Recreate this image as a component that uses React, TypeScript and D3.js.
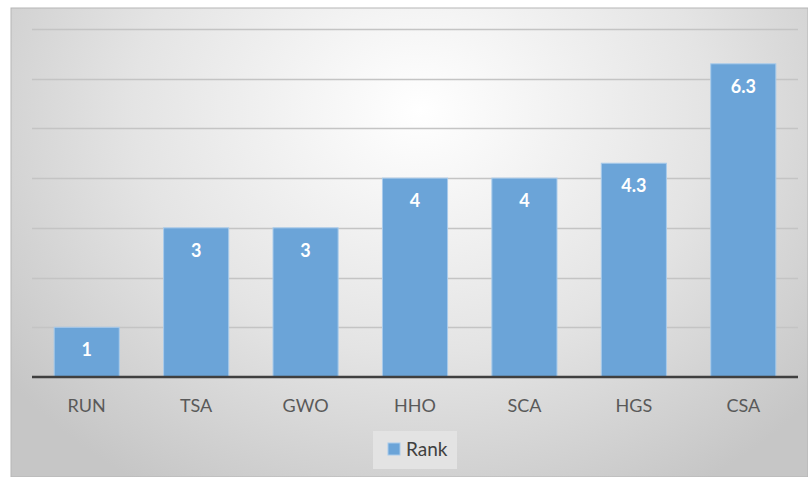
import React from 'react';
import * as d3 from "d3";

// chart data
const algorithms = ["RUN", "TSA", "GWO", "HHO", "SCA", "HGS", "CSA"];
const rankValues = [1, 3, 3, 4, 4, 4.3, 6.3];
const rankLabels = ["1", "3", "3", "4", "4", "4.3", "6.3"];
const yTicks = [0, 1, 2, 3, 4, 5, 6, 7];
const seriesName = "Rank";

const RankChart = () => {
    const svgRef = React.useRef<SVGSVGElement>(null);

    const width = 808;
    const height = 477;
    const frame = {left: 11, top: 8, right: 808, bottom: 477};
    const plot = {left: 32, right: 798, top: 29, bottom: 377};
    const font = "Lato, 'Open Sans', sans-serif";

    React.useEffect(() => {
        const svg = d3.select(svgRef.current);
        svg.selectAll("*").remove();

        const defs = svg.append("defs");
        const grad = defs.append("radialGradient")
            .attr("id", "bg")
            .attr("gradientUnits", "userSpaceOnUse")
            .attr("cx", 420).attr("cy", 110)
            .attr("r", 520)
            .attr("gradientTransform", "translate(420,110) scale(1,0.85) translate(-420,-110)");
        grad.append("stop").attr("offset", "0%").attr("stop-color", "#ffffff");
        grad.append("stop").attr("offset", "55%").attr("stop-color", "#e4e4e4");
        grad.append("stop").attr("offset", "100%").attr("stop-color", "#c6c6c6");

        svg.append("rect")
            .attr("x", frame.left).attr("y", frame.top)
            .attr("width", frame.right - frame.left)
            .attr("height", frame.bottom - frame.top)
            .attr("fill", "url(#bg)")
            .attr("stroke", "#b5b5b5")
            .attr("stroke-width", 1);

        const x = d3.scaleBand<string>()
            .domain(algorithms)
            .range([plot.left, plot.right])
            .paddingInner(0.405)
            .paddingOuter(0.2025);

        const y = d3.scaleLinear()
            .domain([0, 7])
            .range([plot.bottom, plot.top]);

        // gridlines
        svg.append("g")
            .selectAll("line")
            .data(yTicks.filter(t => t > 0))
            .enter()
            .append("line")
            .attr("x1", plot.left).attr("x2", plot.right)
            .attr("y1", d => Math.round(y(d)) + 0.5)
            .attr("y2", d => Math.round(y(d)) + 0.5)
            .attr("stroke", "#c4c4c4")
            .attr("stroke-width", 1.3);

        const data = algorithms.map((a, i) => ({name: a, value: rankValues[i], label: rankLabels[i]}));

        const bars = svg.append("g");
        bars.selectAll("rect")
            .data(data)
            .enter()
            .append("rect")
            .attr("x", d => x(d.name)!)
            .attr("y", d => y(d.value))
            .attr("width", x.bandwidth())
            .attr("height", d => y(0) - y(d.value))
            .attr("fill", "#6ba4d8")
            .attr("stroke", "#a9cbeb")
            .attr("stroke-width", 1);

        bars.selectAll("text")
            .data(data)
            .enter()
            .append("text")
            .attr("x", d => x(d.name)! + x.bandwidth() / 2)
            .attr("y", d => y(d.value) + 29)
            .attr("text-anchor", "middle")
            .attr("font-family", font)
            .attr("font-weight", "bold")
            .attr("font-size", 18)
            .attr("fill", "#ffffff")
            .text(d => d.label);

        // baseline
        svg.append("line")
            .attr("x1", plot.left).attr("x2", plot.right)
            .attr("y1", y(0)).attr("y2", y(0))
            .attr("stroke", "#3f3f3f")
            .attr("stroke-width", 2.5);

        // category labels
        const xAxis = d3.axisBottom(x).tickSize(0).tickPadding(0);
        const xg = svg.append("g")
            .attr("transform", "translate(0," + (y(0) + 35) + ")")
            .call(xAxis);
        xg.select(".domain").remove();
        xg.selectAll("text")
            .attr("dy", 0)
            .attr("font-family", font)
            .attr("font-size", 18)
            .attr("fill", "#595959");

        // legend
        const legend = svg.append("g");
        legend.append("rect")
            .attr("x", 373).attr("y", 431)
            .attr("width", 84).attr("height", 38)
            .attr("fill", "#e3e3e3");
        legend.append("rect")
            .attr("x", 388).attr("y", 443)
            .attr("width", 12).attr("height", 12)
            .attr("fill", "#6ba4d8")
            .attr("stroke", "#a9cbeb");
        legend.append("text")
            .attr("x", 406).attr("y", 456)
            .attr("font-family", font)
            .attr("font-size", 19)
            .attr("fill", "#404040")
            .text(seriesName);
    }, []);

    return (
        <div style={{position: "absolute", left: 0, top: 0, background: "white"}}>
            <svg ref={svgRef} width={width} height={height}></svg>
        </div>
    );
}

const App = () => <RankChart />;

export default App;
